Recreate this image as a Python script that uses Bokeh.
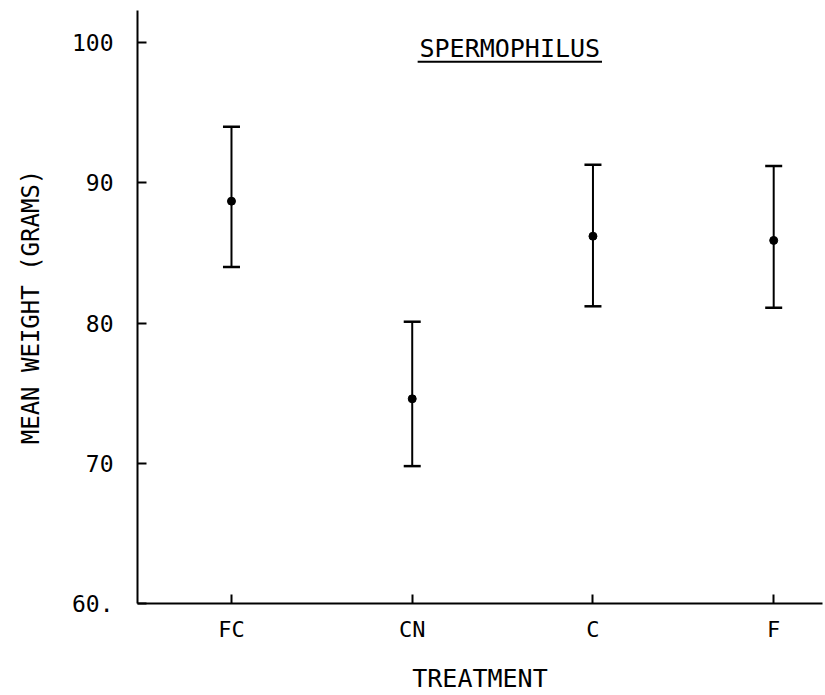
from bokeh.plotting import figure
from bokeh.models import ColumnDataSource, FixedTicker, Range1d, Label
from bokeh.embed import file_html
from bokeh.resources import INLINE

# ---- data ----
treatments = ["FC", "CN", "C", "F"]
mean_weight = [88.7, 74.6, 86.2, 85.9]
upper = [94.0, 80.1, 91.3, 91.2]
lower = [84.0, 69.8, 81.2, 81.1]
y_ticks = [60, 70, 80, 90, 100]
y_tick_labels = ["60.", "70", "80", "90", "100"]

xpos = list(range(1, len(treatments) + 1))

FONT = "DejaVu Sans Mono"

p = figure(width=825, height=695, output_backend="svg", toolbar_location=None,
           x_range=Range1d(0.48, 4.27), y_range=Range1d(60, 102.3),
           min_border_left=137, min_border_right=3, min_border_top=10,
           min_border_bottom=92)
p.outline_line_color = None
p.xgrid.grid_line_color = None
p.ygrid.grid_line_color = None
p.background_fill_color = "white"
p.border_fill_color = "white"

src = ColumnDataSource(dict(x=xpos, m=mean_weight, up=upper, lo=lower))

p.segment(x0="x", y0="lo", x1="x", y1="up", source=src, line_color="black", line_width=2)
p.scatter(x="x", y="up", source=src, marker="dash", size=17, line_color="black", line_width=2.5)
p.scatter(x="x", y="lo", source=src, marker="dash", size=17, line_color="black", line_width=2.5)
p.scatter(x="x", y="m", source=src, marker="circle", size=8, fill_color="black", line_color="black")

# axes
for ax in (p.xaxis[0], p.yaxis[0]):
    ax.axis_line_width = 2
    ax.axis_line_color = "black"
    ax.major_tick_in = 9
    ax.major_tick_out = 0
    ax.major_tick_line_width = 2
    ax.minor_tick_line_color = None
    ax.major_label_text_font = FONT
    ax.major_label_text_color = "black"
    ax.axis_label_text_font = FONT
    ax.axis_label_text_font_style = "normal"
    ax.axis_label_text_color = "black"

p.xaxis.ticker = FixedTicker(ticks=xpos)
p.xaxis.major_label_overrides = {x: t for x, t in zip(xpos, treatments)}
p.xaxis.major_label_text_font_size = "22px"
p.xaxis.major_label_standoff = 13
p.xaxis.axis_label = "TREATMENT"
p.xaxis.axis_label_text_font_size = "25px"
p.xaxis.axis_label_standoff = 19

p.yaxis.ticker = FixedTicker(ticks=y_ticks)
p.yaxis.major_label_overrides = {v: t for v, t in zip(y_ticks, y_tick_labels)}
p.yaxis.major_label_text_font_size = "23px"
p.yaxis.major_label_standoff = 24
p.yaxis.axis_label = "MEAN WEIGHT (GRAMS)"
p.yaxis.axis_label_text_font_size = "24px"
p.yaxis.axis_label_standoff = 24

# title with underline
tx, ty = 2.54, 99.6
p.add_layout(Label(x=tx, y=ty, text="SPERMOPHILUS", text_font=FONT, text_font_size="25px",
                   text_align="center", text_baseline="middle", text_color="black"))
p.segment(x0=[tx - 0.51], y0=[98.65], x1=[tx + 0.51], y1=[98.65], line_color="black", line_width=2)

open("out.html", "w").write(file_html(p, INLINE))
